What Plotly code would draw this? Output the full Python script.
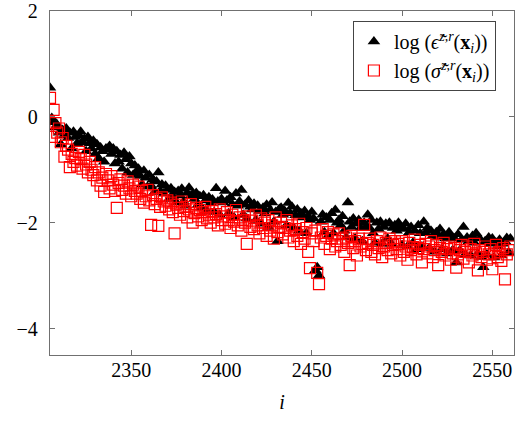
import plotly.graph_objects as go

x_start = 2305
eps_log = [
    0.55, -0.02, -0.10, -0.20, -0.15, -0.30, -0.52, -0.25, -0.35, -0.22, -0.40, -0.30, -0.60, -0.28, -0.38, -0.50,
    -0.35, -0.28, -0.48, -0.42, -0.65, -0.38, -0.50, -0.60, -0.45, -0.70, -0.52, -0.78, -0.58, -0.65, -0.85, -0.60,
    -0.62, -0.55, -0.70, -0.60, -0.88, -0.65, -0.85, -0.72, -0.98, -0.68, -0.80, -1.05, -0.75, -0.88, -1.10, -0.92,
    -1.05, -0.98, -1.12, -1.28, -1.02, -1.15, -1.32, -1.10, -1.30, -1.18, -1.42, -1.22, -1.05, -1.40, -1.28, -1.45,
    -1.30, -1.38, -1.55, -1.35, -1.50, -1.42, -1.62, -1.40, -1.48, -1.36, -1.60, -1.68, -1.44, -1.34, -1.50, -1.46,
    -1.55, -1.44, -1.66, -1.50, -1.72, -1.48, -1.58, -1.78, -1.52, -1.62, -1.56, -1.80, -1.35, -1.60, -1.85, -1.55,
    -1.62, -1.40, -1.58, -1.82, -1.52, -1.65, -1.90, -1.45, -1.68, -1.60, -1.38, -1.85, -1.66, -1.92, -1.58, -1.70,
    -1.75, -1.64, -1.95, -1.68, -1.78, -2.02, -1.72, -1.82, -1.66, -2.08, -1.76, -1.62, -1.98, -1.80, -2.35, -1.74,
    -1.72, -1.85, -1.78, -2.05, -1.63, -1.82, -1.70, -2.10, -1.86, -1.75, -2.15, -1.82, -1.90, -1.78, -2.20, -1.88,
    -1.95, -1.80, -1.92, -2.90, -2.84, -3.00, -1.98, -1.85, -2.18, -1.90, -2.25, -1.95, -1.82, -2.20, -1.76, -2.00,
    -1.95, -2.05, -1.88, -2.15, -2.28, -1.62, -1.98, -2.08, -1.92, -2.30, -2.02, -1.95, -2.10, -2.35, -2.00, -2.08,
    -1.85, -2.10, -1.95, -2.20, -2.38, -2.00, -2.12, -1.98, -2.40, -2.08, -2.02, -2.30, -2.00, -2.40, -2.10, -2.05,
    -2.15, -2.00, -2.08, -2.42, -2.12, -2.02, -2.45, -2.18, -2.08, -2.38, -2.15, -2.50, -2.05, -2.20, -2.45, -1.98,
    -2.20, -2.10, -2.48, -2.15, -2.25, -2.55, -2.18, -2.28, -2.12, -2.50, -2.22, -2.30, -2.58, -2.18, -2.26, -2.52,
    -2.30, -2.75, -2.22, -2.52, -2.32, -2.08, -2.60, -2.28, -2.35, -2.62, -2.25, -2.38, -2.20, -2.58, -2.30, -2.65,
    -2.84, -2.35, -2.60, -2.28, -2.40, -2.30, -2.66, -2.38, -2.45, -2.32, -2.62, -2.40, -2.35, -2.29, -2.56, -2.30,
]
sigma_log = [
    0.36, -0.38, 0.13, -0.12, -0.30, -0.22, -0.48, -0.40, -0.75, -0.55, -0.62, -0.95, -0.70, -0.85, -0.78, -0.92,
    -0.66, -0.80, -0.98, -0.72, -0.90, -1.05, -0.85, -1.00, -1.10, -0.95, -1.20, -1.05, -1.30, -1.15, -1.42, -1.08,
    -1.20, -1.35, -1.12, -1.28, -1.40, -1.72, -1.25, -1.18, -1.38, -1.30, -1.45, -1.22, -1.35, -1.50, -1.28, -1.40,
    -1.45, -1.32, -1.55, -1.40, -1.62, -1.50, -1.38, -1.58, -2.04, -1.48, -1.65, -1.55, -2.06, -1.70, -1.52, -1.60,
    -1.68, -1.58, -1.75, -1.62, -1.80, -2.20, -1.66, -1.72, -1.85, -1.60, -1.78, -1.70, -1.90, -1.75, -1.65, -2.00,
    -1.82, -1.72, -1.88, -1.76, -1.95, -1.80, -1.70, -1.92, -1.85, -2.00, -1.78, -1.90, -1.84, -2.05, -1.75, -1.95,
    -1.88, -2.02, -1.80, -1.95, -2.10, -1.85, -1.98, -1.76, -2.05, -1.90, -2.15, -1.95, -2.00, -2.40, -1.88, -2.08,
    -1.96, -2.12, -1.85, -2.05, -2.20, -1.92, -2.10, -2.00, -2.25, -1.95, -2.15, -2.05, -2.30, -1.90, -2.18, -2.08,
    -2.00, -2.22, -2.10, -1.95, -2.28, -2.15, -2.05, -2.35, -2.12, -2.25, -2.02, -2.40, -2.18, -2.30, -2.10, -2.55,
    -2.86, -2.20, -2.35, -2.15, -2.95, -3.16, -2.28, -2.12, -2.40, -2.25, -2.18, -2.50, -2.30, -2.22, -2.45, -2.35,
    -2.20, -2.42, -2.30, -2.55, -2.28, -2.38, -2.80, -2.25, -2.48, -2.35, -2.62, -2.30, -2.45, -2.40, -2.04, -2.52,
    -2.38, -2.30, -2.55, -2.42, -2.60, -2.35, -2.48, -2.28, -2.65, -2.45, -2.38, -2.52, -2.30, -2.58, -2.42, -2.35,
    -2.50, -2.40, -2.62, -2.35, -2.55, -2.45, -2.70, -2.38, -2.52, -2.46, -2.32, -2.60, -2.48, -2.42, -2.75, -2.50,
    -2.40, -2.58, -2.45, -2.35, -2.65, -2.52, -2.42, -2.80, -2.48, -2.55, -2.38, -2.62, -2.50, -2.45, -2.70, -2.58,
    -2.48, -2.85, -2.60, -2.52, -2.42, -2.68, -2.55, -2.45, -2.75, -2.50, -2.62, -2.40, -2.58, -2.90, -2.52, -2.65,
    -2.55, -2.45, -2.70, -2.60, -2.50, -2.88, -2.58, -2.42, -2.65, -2.55, -2.72, -2.48, -3.07, -2.60, -2.52, -2.45,
]
x_vals = list(range(x_start, x_start + len(eps_log)))
x_ticks = [2350, 2400, 2450, 2500, 2550]
y_ticks = [-4, -2, 0, 2]

FONT = "Liberation Serif, DejaVu Serif, serif"
AX = "#707070"

fig = go.Figure()
fig.add_trace(go.Scatter(
    x=x_vals, y=eps_log, mode="markers",
    name="log (<i>ϵ\u0303</i><sup><i>z,r</i></sup>(<b>x</b><sub><i>i</i></sub>))",
    marker=dict(symbol="triangle-up", size=11, color="black", line=dict(width=0)),
))
fig.add_trace(go.Scatter(
    x=x_vals, y=sigma_log, mode="markers",
    name="log (<i>σ\u0303</i><sup><i>z,r</i></sup>(<b>x</b><sub><i>i</i></sub>))",
    marker=dict(symbol="square-open", size=11, color="red", line=dict(width=1.2, color="red")),
))

axis_common = dict(
    showline=True, mirror="ticks", linecolor=AX, linewidth=1.3,
    ticks="inside", ticklen=5, tickcolor=AX, tickwidth=1,
    showgrid=False, zeroline=False, automargin=False,
    tickfont=dict(family=FONT, size=20, color="black"),
)
fig.update_xaxes(range=[2305, 2562], tickvals=x_ticks, ticklabelstandoff=-3,
                 title=dict(text="<i>i</i>", font=dict(family=FONT, size=20, color="black"), standoff=14),
                 **axis_common)
fig.update_yaxes(range=[-4.5, 2], tickvals=y_ticks, ticklabelstandoff=7, **axis_common)

fig.update_layout(
    width=522, height=425,
    margin=dict(l=50, r=8, t=11, b=70),
    plot_bgcolor="white", paper_bgcolor="white",
    font=dict(family=FONT, size=20, color="black"),
    showlegend=True,
    legend=dict(x=0.961, y=0.971, xanchor="right", yanchor="top",
                bgcolor="white", bordercolor="#444", borderwidth=1,
                font=dict(family=FONT, size=20, color="black"),
                itemwidth=30, tracegroupgap=0),
)
fig.write_html("out.html")
